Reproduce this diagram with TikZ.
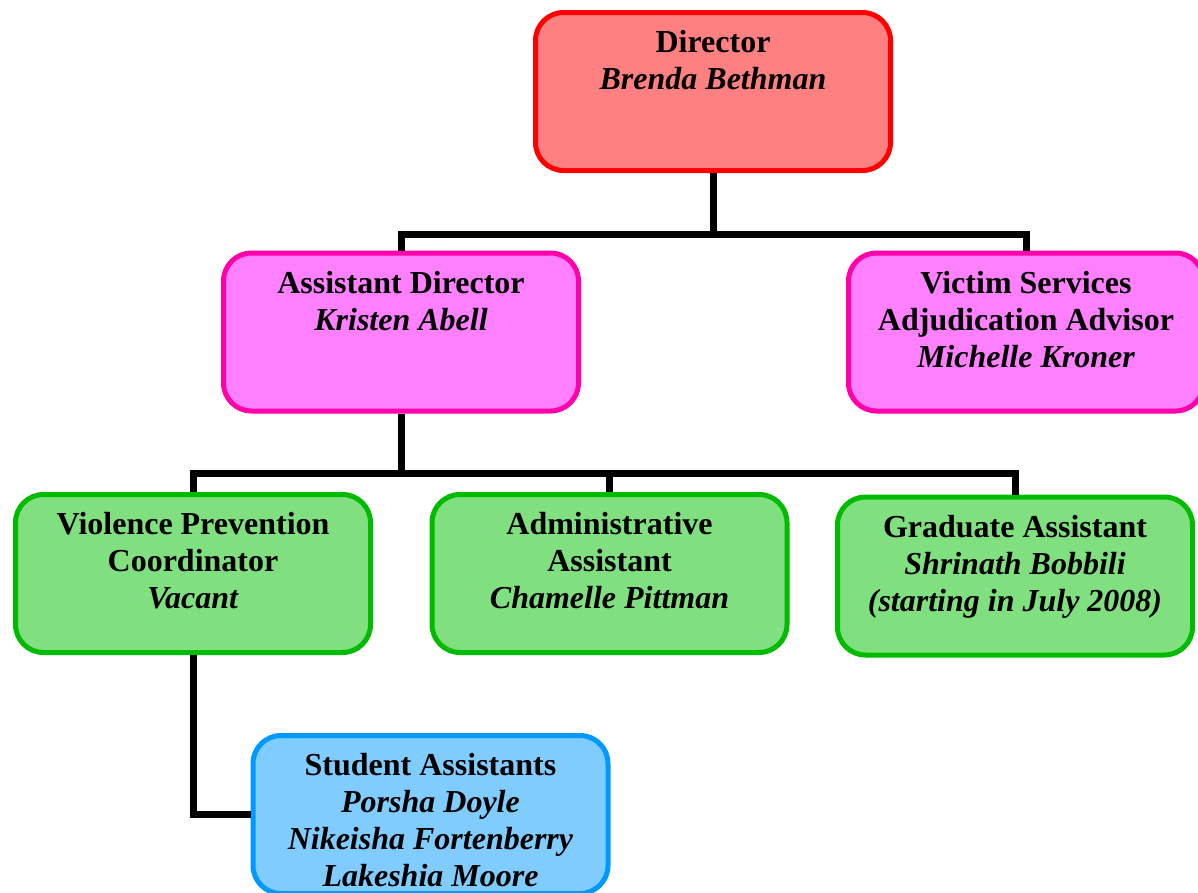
\documentclass[tikz,border=0pt]{standalone}
\usepackage{fontspec}
\setmainfont{Liberation Serif}
\usetikzlibrary{calc}

\definecolor{dirfill}{HTML}{FF8080}
\definecolor{dirline}{HTML}{FF0000}
\definecolor{pinkfill}{HTML}{FF80FF}
\definecolor{pinkline}{HTML}{FF00AA}
\definecolor{greenfill}{HTML}{80E080}
\definecolor{greenline}{HTML}{00BB00}
\definecolor{bluefill}{HTML}{80CCFF}
\definecolor{blueline}{HTML}{0099FF}

\tikzset{
  orgbox/.style={draw,rectangle,line width=5pt,rounded corners=28pt,minimum width=355pt,minimum height=158pt,inner sep=0pt},
  boxtext/.style={anchor=north,align=center,inner sep=0pt,font=\fontsize{32}{37}\selectfont\bfseries},
  link/.style={line width=7pt},
}

\begin{document}
\begin{tikzpicture}[x=1pt,y=-1pt]
\path[fill=white,use as bounding box] (0,0) rectangle (1198,892);
\clip (0,0) rectangle (1198,892);

% boxes
\draw node [orgbox,fill=dirfill,draw=dirline] (dir) at (713,91.5) {};
\draw node [orgbox,fill=pinkfill,draw=pinkline] (asst) at (401,332) {};
\draw node [orgbox,fill=pinkfill,draw=pinkline] (victim) at (1026,332) {};
\draw node [orgbox,fill=greenfill,draw=greenline] (vpc) at (193,573.5) {};
\draw node [orgbox,fill=greenfill,draw=greenline] (admin) at (609.5,573.5) {};
\draw node [orgbox,fill=greenfill,draw=greenline] (grad) at (1015,576) {};
\draw node [orgbox,fill=bluefill,draw=blueline] (students) at (430.5,814.5) {};

% texts
\draw node [boxtext] (dirtxt) at ($ (dir.north)+(0,20.5) $) {Director\\\textit{Brenda Bethman}};
\draw node [boxtext] (assttxt) at ($ (asst.north)+(0,20.5) $) {Assistant Director\\\textit{Kristen Abell}};
\draw node [boxtext] (victimtxt) at ($ (victim.north)+(0,20.5) $) {Victim Services\\Adjudication Advisor\\\textit{Michelle Kroner}};
\draw node [boxtext] (vpctxt) at ($ (vpc.north)+(0,20.5) $) {Violence Prevention\\Coordinator\\\textit{Vacant}};
\draw node [boxtext] (admintxt) at ($ (admin.north)+(0,20.5) $) {Administrative\\Assistant\\\textit{Chamelle Pittman}};
\draw node [boxtext] (gradtxt) at ($ (grad.north)+(0,20.5) $) {Graduate Assistant\\\textit{Shrinath Bobbili}\\\textit{(starting in July 2008)}};
\draw node [boxtext] (studentstxt) at ($ (students.north)+(0,20.5) $) {Student Assistants\\\textit{Porsha Doyle}\\\textit{Nikeisha Fortenberry}\\\textit{Lakeshia Moore}};

% connectors
\coordinate (dirbus) at (713,234);
\coordinate (asstbus) at (401,473);
\draw[link] (dir.south) -- (dirbus);
\draw[link] (asst.north) |- (dirbus) -| (victim.north);
\draw[link] (asst.south) -- (asstbus);
\draw[link] (vpc.north) |- (asstbus) -| (grad.north);
\draw[link] (admin.north) -- (admin.north |- asstbus);
\draw[link] (vpc.south) |- (students.west);

\end{tikzpicture}
\end{document}
